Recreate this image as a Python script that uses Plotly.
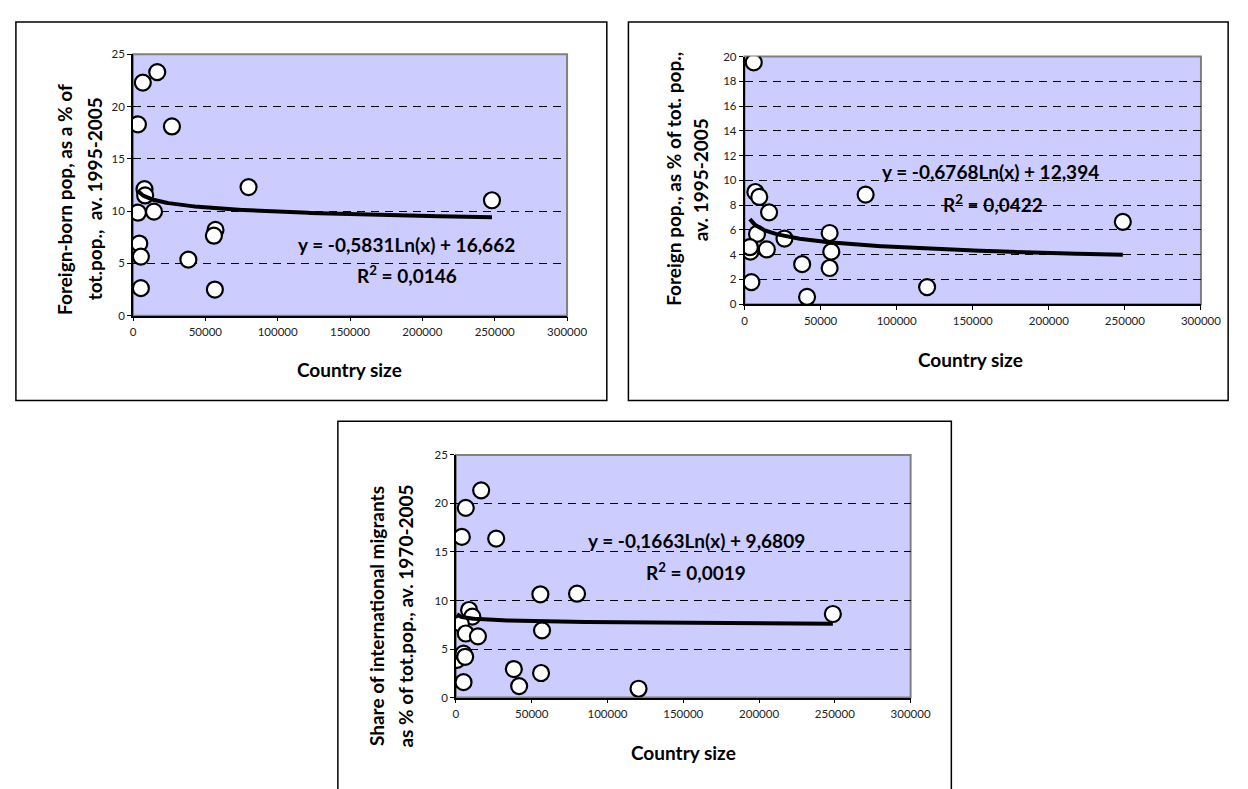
import numpy as np
import plotly.graph_objects as go

W, H = 1248, 789

# ---------------- data ----------------
# Chart 1: foreign-born population
size_fb = [16760, 6780, 3400, 26900, 7940, 8400, 79850, 3400, 14500, 57000,
           55900, 4340, 5430, 38260, 5430, 56580, 248100]
foreign_born = [23.3, 22.3, 18.3, 18.1, 12.1, 11.5, 12.3, 9.85, 9.95, 8.2,
                7.65, 6.9, 5.65, 5.36, 2.63, 2.5, 11.04]
fb_a, fb_b = -0.5831, 16.662
fb_eq = "y = -0,5831Ln(x) + 16,662"
fb_r2 = "R<sup>2</sup> = 0,0146"

# Chart 2: foreign population
size_fp = [6060, 7100, 9680, 16130, 79600, 8190, 26260, 55940, 57030, 55940,
           3870, 3500, 14650, 37870, 4520, 41100, 120000, 248650]
foreign_pop = [19.53, 9.06, 8.66, 7.42, 8.85, 5.67, 5.3, 5.75, 4.24, 2.92,
               4.24, 4.6, 4.42, 3.23, 1.78, 0.58, 1.38, 6.65]
fp_a, fp_b = -0.6768, 12.394
fp_eq = "y = -0,6768Ln(x) + 12,394"
fp_r2 = "R<sup>2</sup> = 0,0422"

# Chart 3: international migrants
size_mig = [16650, 6480, 3890, 26550, 55700, 79900, 8680, 10800, 3240, 6480,
            14500, 56800, 700, 5000, 6100, 5000, 38200, 41700, 56150, 120470, 248700]
migrants = [21.35, 19.55, 16.55, 16.38, 10.64, 10.7, 9.02, 8.34, 7.6, 6.6,
            6.31, 6.92, 3.88, 4.52, 4.2, 1.59, 2.94, 1.18, 2.53, 0.91, 8.61]
mig_a, mig_b = -0.1663, 9.6809
mig_eq = "y = -0,1663Ln(x) + 9,6809"
mig_r2 = "R<sup>2</sup> = 0,0019"

x_title = "Country size"
y1_title = ["Foreign-born pop, as a % of", "tot.pop.,  av. 1995-2005"]
y2_title = ["Foreign pop., as % of tot. pop.,", "av. 1995-2005"]
y3_title = ["Share of international migrants", "as % of tot.pop., av. 1970-2005"]

# ---------------- layout helpers (pixel -> paper) ----------------
def px(x):
    return x / W

def py(y):
    return 1 - y / H

FONT = "Lato"
fig = go.Figure()

charts = [
    dict(xs=size_fb, ys=foreign_born, a=fb_a, b=fb_b, eq=fb_eq, r2=fb_r2,
         box=(124.3, 40, 566.5, 305.7), yr=[0, 25], dt=5,
         outer=(5, 7, 607, 392),
         eqpos=(403, 233), r2pos=(403, 264),
         ytl=y1_title, ytpos=[(55, 187), (85, 187)], xtpos=(345, 360)),
    dict(xs=size_fp, ys=foreign_pop, a=fp_a, b=fp_b, eq=fp_eq, r2=fp_r2,
         box=(747.3, 42.3, 1212.3, 294), yr=[0, 20], dt=2,
         outer=(629, 7, 1240, 392),
         eqpos=(998, 159), r2pos=(1000, 192),
         ytl=y2_title, ytpos=[(675, 167), (702, 168)], xtpos=(978, 350)),
    dict(xs=size_mig, ys=migrants, a=mig_a, b=mig_b, eq=mig_eq, r2=mig_r2,
         box=(453.3, 447.3, 916.5, 694), yr=[0, 25], dt=5,
         outer=(333, 413, 958, 800),
         eqpos=(698, 534), r2pos=(698, 566),
         ytl=y3_title, ytpos=[(373, 611), (402, 611)], xtpos=(685, 750)),
]

shapes = []
annotations = []
for i, c in enumerate(charts, start=1):
    sfx = "" if i == 1 else str(i)
    x0, y0, x1, y1 = c["box"]
    fig.add_trace(go.Scatter(
        x=c["xs"], y=c["ys"], mode="markers",
        marker=dict(size=16, color="white", line=dict(color="black", width=2.2)),
        xaxis="x" + sfx, yaxis="y" + sfx, showlegend=False, hoverinfo="x+y"))
    tx = np.linspace(min(c["xs"]), max(c["xs"]), 300)
    ty = c["a"] * np.log(tx) + c["b"]
    fig.add_trace(go.Scatter(
        x=tx, y=ty, mode="lines", line=dict(color="black", width=4),
        xaxis="x" + sfx, yaxis="y" + sfx, showlegend=False, hoverinfo="skip"))

    common = dict(showline=True, linecolor="black", linewidth=1.5,
                  ticks="outside", tickcolor="black", ticklen=4,
                  tickfont=dict(family=FONT, size=11.5, color="#222"),
                  zeroline=False)
    fig.update_layout(**{
        "xaxis" + sfx: dict(domain=[px(x0), px(x1)], range=[0, 300000],
                            dtick=50000, tickformat="d", showgrid=False,
                            anchor="y" + sfx, ticklabelstandoff=1, **common),
        "yaxis" + sfx: dict(domain=[py(y1), py(y0)], range=c["yr"],
                            dtick=c["dt"], showgrid=True, gridcolor="black",
                            gridwidth=1, griddash="8px,6px",
                            anchor="x" + sfx, **common),
    })
    shapes.append(dict(type="rect", xref="paper", yref="paper",
                       x0=px(x0), x1=px(x1), y0=py(y1), y1=py(y0),
                       fillcolor="#CCCCFF", line=dict(color="#808080", width=2),
                       layer="below"))
    ox0, oy0, ox1, oy1 = c["outer"]
    shapes.append(dict(type="rect", xref="paper", yref="paper",
                       x0=px(ox0), x1=px(ox1), y0=py(oy1), y1=py(oy0),
                       line=dict(color="black", width=1.5), layer="below"))
    bold = dict(family=FONT, size=19, color="black")
    for txt, (ax, ay) in [(c["eq"], c["eqpos"]), (c["r2"], c["r2pos"])]:
        annotations.append(dict(text="<b>" + txt + "</b>", x=px(ax), y=py(ay),
                                xref="paper", yref="paper", showarrow=False,
                                xanchor="center", yanchor="middle", font=bold))
    for txt, (ax, ay) in zip(c["ytl"], c["ytpos"]):
        annotations.append(dict(text="<b>" + txt + "</b>", x=px(ax), y=py(ay),
                                xref="paper", yref="paper", showarrow=False,
                                textangle=-90, xanchor="center", yanchor="middle",
                                font=bold))
    annotations.append(dict(text="<b>" + x_title + "</b>", x=px(c["xtpos"][0]),
                            y=py(c["xtpos"][1]), xref="paper", yref="paper",
                            showarrow=False, xanchor="center", yanchor="middle",
                            font=bold))

fig.update_layout(width=W, height=H, margin=dict(l=0, r=0, t=0, b=0),
                  paper_bgcolor="white", plot_bgcolor="rgba(0,0,0,0)",
                  shapes=shapes, annotations=annotations, showlegend=False)

fig.write_html("out.html")
